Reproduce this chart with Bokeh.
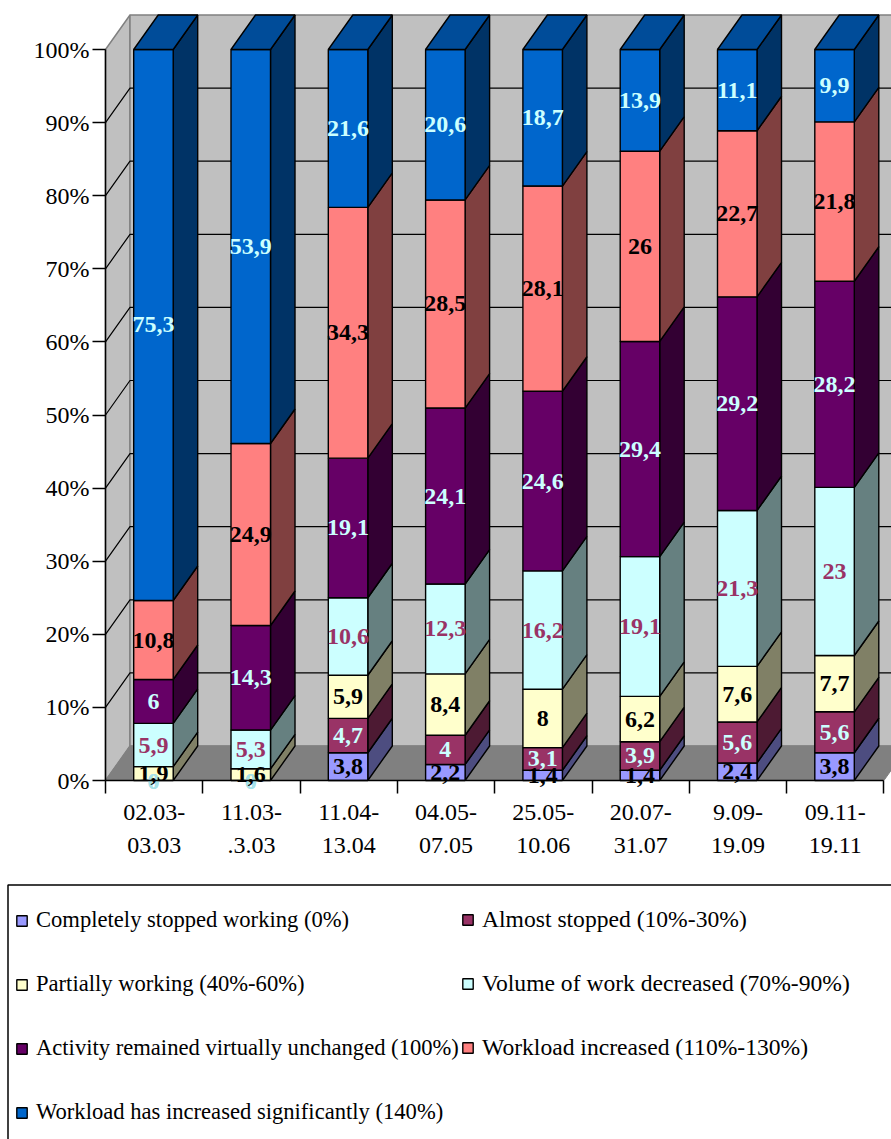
from bokeh.plotting import figure
from bokeh.models import LinearAxis, FixedTicker, Legend, LegendItem
from bokeh.embed import file_html
from bokeh.resources import INLINE
from bokeh.core.properties import value

categories = ["02.03-\n03.03", "11.03-\n.3.03", "11.04-\n13.04", "04.05-\n07.05",
              "25.05-\n10.06", "20.07-\n31.07", "9.09-\n19.09", "09.11-\n19.11"]
stopped   = [0, 0, 3.8, 2.2, 1.4, 1.4, 2.4, 3.8]
almost    = [0, 0, 4.7, 4, 3.1, 3.9, 5.6, 5.6]
partial   = [1.9, 1.6, 5.9, 8.4, 8, 6.2, 7.6, 7.7]
decreased = [5.9, 5.3, 10.6, 12.3, 16.2, 19.1, 21.3, 23]
unchanged = [6, 14.3, 19.1, 24.1, 24.6, 29.4, 29.2, 28.2]
increased = [10.8, 24.9, 34.3, 28.5, 28.1, 26, 22.7, 21.8]
signif    = [75.3, 53.9, 21.6, 20.6, 18.7, 13.9, 11.1, 9.9]
series = [stopped, almost, partial, decreased, unchanged, increased, signif]
names = ["Completely stopped working (0%)", "Almost stopped (10%-30%)",
         "Partially working (40%-60%)", "Volume of work decreased (70%-90%)",
         "Activity remained virtually unchanged (100%)", "Workload increased (110%-130%)",
         "Workload has increased significantly (140%)"]
front = ["#9999FF", "#993366", "#FFFFCC", "#CCFFFF", "#660066", "#FF8080", "#0066CC"]
side  = ["#4D4D80", "#4D1A33", "#808066", "#668080", "#330033", "#804040", "#003366"]
top_colour = "#004C99"
label_colour = ["#000000", "#CCFFFF", "#000000", "#993366", "#CCFFFF", "#000000", "#CCFFFF"]

# page pixel geometry of the plot
PAGE_L, PAGE_T, PAGE_R, PAGE_B = 0, 0, 891, 1139
X0, Y0 = 105.0, 780.0     # pixel of category edge 0 / 0%
PX_CAT, PX_PCT = 97.3, 7.31
DX, DY = 24.5 / PX_CAT, 34.5 / PX_PCT   # depth vector in data units
BAR_W = 39.5 / PX_CAT
BAR_C = 0.5 - 0.7 / PX_CAT              # bar centre inside its category
SERIF = "Liberation Serif"

p = figure(width=PAGE_R - PAGE_L, height=PAGE_B - PAGE_T, output_backend="svg", toolbar_location=None,
           x_range=((PAGE_L - X0) / PX_CAT, (PAGE_R - X0) / PX_CAT),
           y_range=((Y0 - PAGE_B) / PX_PCT, (Y0 - PAGE_T) / PX_PCT),
           min_border=0, outline_line_color=None, x_axis_type=None, y_axis_type=None)
p.grid.visible = False

n = len(categories)
# walls and floor
p.patch([0, DX, DX, 0], [0, DY, 100 + DY, 100], fill_color="#C0C0C0", line_color="#808080", line_width=1.5)
p.patch([DX, n + DX, n + DX, DX], [DY, DY, 100 + DY, 100 + DY], fill_color="#C0C0C0", line_color="#808080", line_width=1.5)
p.patch([0, n, n + DX, DX], [0, 0, DY, DY], fill_color="#808080", line_color="#808080", line_width=1)
ticks = list(range(0, 101, 10))
t = ticks[1:-1]
p.multi_line([[0, DX, n + DX] for _ in t], [[v, v + DY, v + DY] for v in t], line_color="#000000", line_width=1.2)

# bars
totals = [sum(s[i] for s in series) for i in range(n)]
renderers = []
tx, ty, tl, tc = [], [], [], []
zx, zy, zl = [], [], []
for k, s in enumerate(series):
    fx, fy, sx, sy = [], [], [], []
    for i in range(n):
        b = sum(series[j][i] for j in range(k)) / totals[i] * 100
        h = s[i] / totals[i] * 100
        l = i + BAR_C - BAR_W / 2
        r = i + BAR_C + BAR_W / 2
        if h > 0:
            fx.append([l, r, r, l]); fy.append([b, b, b + h, b + h])
            sx.append([r, r + DX, r + DX, r]); sy.append([b, b + DY, b + h + DY, b + h])
            tx.append(i + BAR_C); ty.append(b + h / 2)
            tl.append(str(s[i]).replace(".", ",")); tc.append(label_colour[k])
        else:
            zx.append(i + BAR_C); zy.append(b); zl.append(str(s[i]))
    p.patches(sx, sy, fill_color=side[k], line_color="#000000", line_width=1.4)
    renderers.append(p.patches(fx, fy, fill_color=front[k], line_color="#000000", line_width=1.4))
tops_x = [[i + BAR_C - BAR_W / 2, i + BAR_C + BAR_W / 2, i + BAR_C + BAR_W / 2 + DX, i + BAR_C - BAR_W / 2 + DX] for i in range(n)]
tops_y = [[100, 100, 100 + DY, 100 + DY] for i in range(n)]
p.patches(tops_x, tops_y, fill_color=top_colour, line_color="#000000", line_width=1.4)

# the zero-height segments' labels sit under the others, on the axis
p.text(zx, zy, text=zl, text_color="#A6E2EA", text_font=value(SERIF), text_font_style="bold",
       text_font_size="24px", text_align="center", text_baseline="middle", y_offset=1)
p.text(tx, ty, text=tl, text_color=tc, text_font=value(SERIF), text_font_style="bold",
       text_font_size="24px", text_align="center", text_baseline="middle")

# axes placed on the plane of the front edge
yaxis = LinearAxis(fixed_location=0, ticker=FixedTicker(ticks=ticks), bounds=(0, 100),
                   major_label_overrides={v: f"{v}%" for v in ticks})
yaxis.axis_line_color = "#000000"; yaxis.axis_line_width = 1.5
yaxis.major_tick_line_color = "#000000"; yaxis.major_tick_line_width = 1.5
yaxis.major_tick_out = 13; yaxis.major_tick_in = 0; yaxis.minor_tick_line_color = None
yaxis.major_label_text_font = SERIF; yaxis.major_label_text_font_size = "24px"
yaxis.major_label_text_color = "#000000"; yaxis.major_label_standoff = 3
p.add_layout(yaxis, "left")

xaxis = LinearAxis(fixed_location=0, bounds=(0, n),
                   ticker=FixedTicker(ticks=[i + 0.5 for i in range(n)], minor_ticks=list(range(n + 1))),
                   major_label_overrides={i + 0.5: c for i, c in enumerate(categories)})
xaxis.axis_line_color = "#000000"; xaxis.axis_line_width = 1.5
xaxis.major_tick_line_color = None; xaxis.major_tick_out = 0; xaxis.major_tick_in = 0
xaxis.minor_tick_line_color = "#000000"; xaxis.minor_tick_line_width = 1.5
xaxis.minor_tick_out = 13; xaxis.minor_tick_in = 0
xaxis.major_label_text_font = SERIF; xaxis.major_label_text_font_size = "24px"
xaxis.major_label_text_color = "#000000"; xaxis.major_label_standoff = 5
xaxis.major_label_text_line_height = 1.3
p.add_layout(xaxis, "below")

# legend panel
p.quad(left=[(7.5 - X0) / PX_CAT], right=[(900 - X0) / PX_CAT], top=[(Y0 - 884.5) / PX_PCT], bottom=[(Y0 - 1150) / PX_PCT],
       fill_color="#FFFFFF", line_color="#000000", line_width=1.5)
legend_style = dict(border_line_color=None, background_fill_alpha=0,
                    label_text_font=SERIF, label_text_color="#000000",
                    glyph_width=13, glyph_height=13, label_standoff=8, padding=0, margin=0)
p.add_layout(Legend(items=[LegendItem(label=names[k], renderers=[renderers[k]]) for k in (0, 2, 4, 6)],
                    location=(15, 14), label_text_font_size="22.6px", spacing=38, **legend_style), "center")
p.add_layout(Legend(items=[LegendItem(label=names[k], renderers=[renderers[k]]) for k in (1, 3, 5)],
                    location=(461, 78), label_text_font_size="23.6px", spacing=37, **legend_style), "center")

open("out.html", "w").write(file_html(p, INLINE))
